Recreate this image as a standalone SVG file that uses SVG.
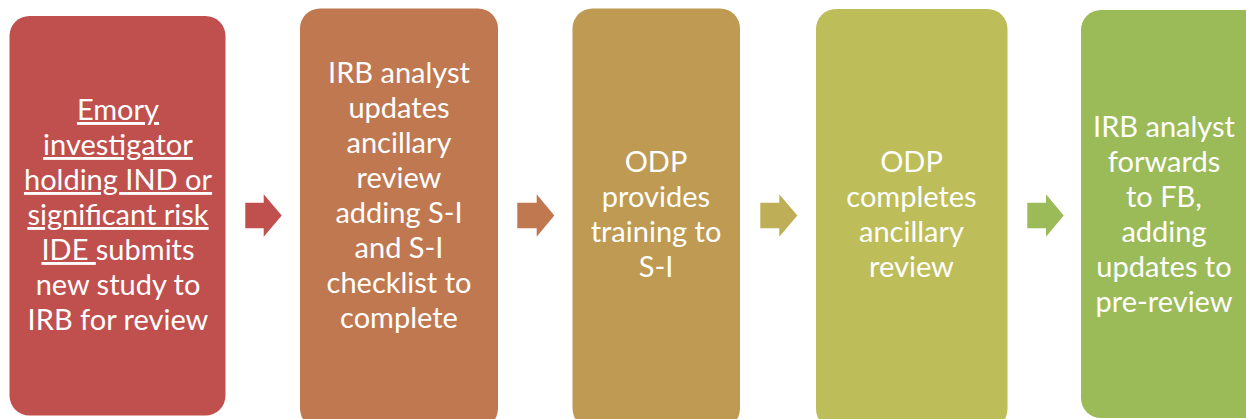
<svg xmlns="http://www.w3.org/2000/svg" width="1246" height="419" viewBox="0 0 1246 419">
<style>
text{font-family:"Lato","Open Sans","Liberation Sans",sans-serif;font-size:29px;fill:#fff;text-anchor:middle}
.u{text-decoration:underline}
</style>
<rect width="1246" height="419" fill="#fff"/>
<g id="connectors">
<polygon points="245.3,202.7 263.7,202.7 263.7,194.3 281.7,215.5 263.7,236.7 263.7,228.3 245.3,228.3" fill="#C0504D"/>
<polygon points="517.3,202.7 536.7,202.7 536.7,194.3 554.3,215.5 536.7,236.7 536.7,228.3 517.3,228.3" fill="#C07850"/>
<polygon points="760.3,202.7 779.3,202.7 779.3,194.3 797.3,215.5 779.3,236.7 779.3,228.3 760.3,228.3" fill="#BEAE57"/>
<polygon points="1027.3,202.7 1046,202.7 1046,194.3 1063.7,215.5 1046,236.7 1046,228.3 1027.3,228.3" fill="#9BBB59"/>
</g>
<g id="n1">
<rect x="9.5" y="16" width="216" height="399.5" rx="20" fill="#C0504D"/>
<text x="118" y="120" class="u">Emory</text>
<text x="118" y="155" class="u">investigator</text>
<text x="118" y="190" class="u">holding IND or</text>
<text x="118" y="225" class="u">significant risk</text>
<text x="118" y="260"><tspan class="u">IDE </tspan>submits</text>
<text x="118" y="295">new study to</text>
<text x="118" y="330">IRB for review</text>
</g>
<g id="n2">
<rect x="300" y="8.5" width="198" height="420" rx="20" fill="#C07850"/>
<text x="399" y="83">IRB analyst</text>
<text x="399" y="118">updates</text>
<text x="399" y="153">ancillary</text>
<text x="399" y="188">review</text>
<text x="399" y="223">adding S-I</text>
<text x="399" y="258">and S-I</text>
<text x="399" y="293">checklist to</text>
<text x="399" y="328">complete</text>
</g>
<g id="n3">
<rect x="572.5" y="8.5" width="167.5" height="420" rx="20" fill="#BE9A53"/>
<text x="656" y="172">ODP</text>
<text x="656" y="207">provides</text>
<text x="656" y="242">training to</text>
<text x="656" y="277">S-I</text>
</g>
<g id="n4">
<rect x="816" y="9" width="191.5" height="420" rx="20" fill="#BDBD5A"/>
<text x="911.5" y="172">ODP</text>
<text x="911.5" y="207">completes</text>
<text x="911.5" y="242">ancillary</text>
<text x="911.5" y="277">review</text>
</g>
<g id="n5">
<rect x="1081" y="10" width="185" height="408" rx="20" fill="#9BBB59"/>
<text x="1164" y="137">IRB analyst</text>
<text x="1164" y="172">forwards</text>
<text x="1164" y="207">to FB,</text>
<text x="1164" y="242">adding</text>
<text x="1164" y="277">updates to</text>
<text x="1164" y="312">pre-review</text>
</g>
</svg>
